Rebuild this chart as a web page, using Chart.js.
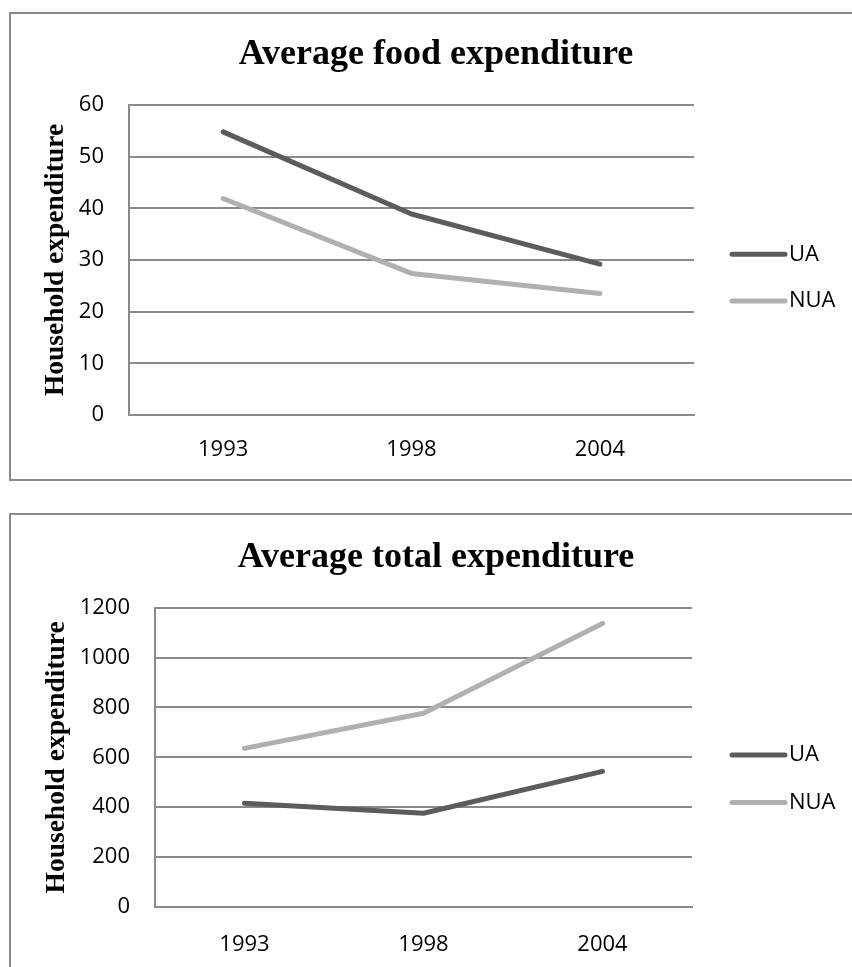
<!DOCTYPE html>
<html>
<head>
<meta charset="utf-8">
<script src="https://cdn.jsdelivr.net/npm/chart.js@4/dist/chart.umd.min.js"></script>
<style>
  html, body { margin: 0; padding: 0; background: #fff; }
  body { width: 852px; height: 967px; overflow: hidden; position: relative; }
  .panel { position: absolute; left: 9px; border: 2px solid #8a8a8a; background: #fff; }
  .panel canvas { display: block; }
  #foodPanel { top: 12px; }
  #totalPanel { top: 513px; }
</style>
</head>
<body>
<div class="panel" id="foodPanel"><canvas id="foodChart" width="850" height="465"></canvas></div>
<div class="panel" id="totalPanel"><canvas id="totalChart" width="850" height="465"></canvas></div>
<script>
// Survey years on the category axis
const years = ['1993', '1998', '2004'];
const seriesNames = ['UA', 'NUA'];

// Average food expenditure per household
const foodUA = [54.8, 38.9, 29.2];
const foodNUA = [41.9, 27.4, 23.5];
const foodTicks = [0, 10, 20, 30, 40, 50, 60];

// Average total expenditure per household
const totalUA = [416, 376, 544];
const totalNUA = [636, 777, 1137];
const totalTicks = [0, 200, 400, 600, 800, 1000, 1200];

const seriesColors = ['#5c5c5c', '#b0b0b0'];
const gridColor = '#8a8a8a';
const tickFont = { family: "'Open Sans', sans-serif", size: 22 };
const serifBold = "'Liberation Serif', 'Times New Roman', serif";

// Right-hand layout box holding the legend: a short stroke in the series colour plus its name
const sideLegend = {
  id: 'sideLegend',
  beforeInit(chart) {
    const box = {
      position: 'right', weight: 0, fullSize: false, options: {},
      left: 0, top: 0, right: 0, bottom: 0, width: 0, height: 0,
      isHorizontal() { return false; },
      update(maxWidth, maxHeight) {
        box.width = chart.options.plugins.sideLegend.width;
        box.height = maxHeight;
      },
      draw() {
        const opts = chart.options.plugins.sideLegend;
        const ctx = chart.ctx;
        ctx.save();
        chart.data.datasets.forEach((ds, i) => {
          const y = opts.y[i];
          ctx.strokeStyle = ds.borderColor;
          ctx.lineWidth = ds.borderWidth;
          ctx.lineCap = 'round';
          ctx.beginPath();
          ctx.moveTo(opts.x1, y);
          ctx.lineTo(opts.x2, y);
          ctx.stroke();
          ctx.fillStyle = '#000';
          ctx.font = `${tickFont.size}px ${tickFont.family}`;
          ctx.textBaseline = 'middle';
          ctx.textAlign = 'left';
          ctx.fillText(ds.label, opts.textX, y);
        });
        ctx.restore();
      }
    };
    Chart.layouts.addBox(chart, box);
  }
};

function makeChart(canvasId, title, ua, nua, ticks, layout) {
  const step = ticks[1] - ticks[0];
  return new Chart(document.getElementById(canvasId), {
    type: 'line',
    data: {
      labels: years,
      datasets: [
        { label: seriesNames[0], data: ua, borderColor: seriesColors[0], backgroundColor: seriesColors[0] },
        { label: seriesNames[1], data: nua, borderColor: seriesColors[1], backgroundColor: seriesColors[1] }
      ].map(d => Object.assign(d, {
        borderWidth: 5, pointRadius: 0, pointHoverRadius: 0, tension: 0, fill: false,
        borderCapStyle: 'round', borderJoinStyle: 'round'
      }))
    },
    options: {
      responsive: false,
      animation: false,
      devicePixelRatio: 1,
      events: [],
      layout: { padding: 0 },
      plugins: {
        legend: { display: false },
        tooltip: { enabled: false },
        title: {
          display: true,
          text: title,
          color: '#000',
          font: { family: serifBold, size: 36, weight: 'bold', lineHeight: 1.2 },
          padding: { top: layout.titleTop, bottom: layout.titleBottom }
        },
        sideLegend: layout.legend
      },
      scales: {
        x: {
          type: 'category',
          offset: true,
          grid: { display: false, drawTicks: false },
          border: { display: true, color: gridColor, width: 2 },
          ticks: { color: '#000', font: tickFont, padding: layout.xPad, maxRotation: 0 },
          afterFit: s => { s.height = layout.xHeight; }
        },
        y: {
          min: ticks[0],
          max: ticks[ticks.length - 1],
          grid: { color: gridColor, lineWidth: 2, drawTicks: false },
          border: { display: true, color: gridColor, width: 2 },
          ticks: {
            stepSize: step, color: '#000', font: tickFont, padding: 25,
            callback: v => String(v)
          },
          title: {
            display: true,
            text: 'Household expenditure',
            color: '#000',
            font: { family: serifBold, size: 27.5, weight: 'bold', lineHeight: 1.2 },
            padding: { top: layout.yTitlePad, bottom: 0 }
          },
          afterFit: s => { s.width = layout.yWidth; }
        }
      }
    },
    plugins: [sideLegend]
  });
}

makeChart('foodChart', 'Average food expenditure', foodUA, foodNUA, foodTicks, {
  titleTop: 19.6, titleBottom: 28.2, xPad: 22, xHeight: 64,
  yWidth: 118, yTitlePad: 28.5,
  legend: { width: 167, x1: 721, x2: 774, textX: 778, y: [240.3, 287] }
});

makeChart('totalChart', 'Average total expenditure', totalUA, totalNUA, totalTicks, {
  titleTop: 21.4, titleBottom: 28.1, xPad: 25, xHeight: 73,
  yWidth: 144, yTitlePad: 29,
  legend: { width: 169, x1: 721, x2: 774, textX: 778, y: [240, 287.5] }
});
</script>
</body>
</html>
